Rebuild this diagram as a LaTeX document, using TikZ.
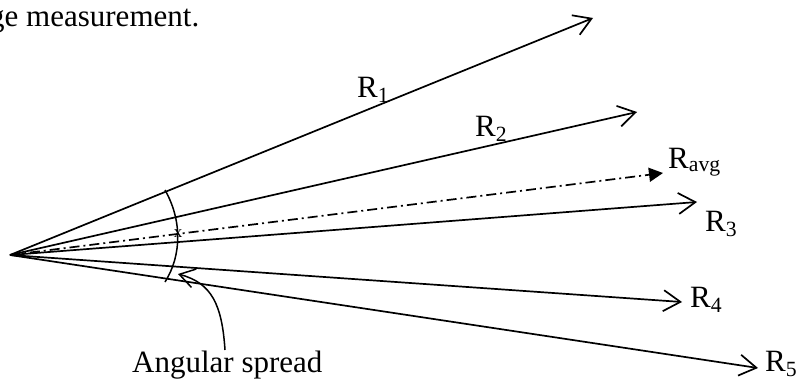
\documentclass[tikz,border=0pt]{standalone}
\usepackage{fontspec}
\setmainfont{Liberation Serif}
\usetikzlibrary{arrows.meta}
\begin{document}
\begin{tikzpicture}[x=1pt,y=-1pt,
  ray/.style={line width=1.7pt,-{Straight Barb[length=17pt,width=21pt,line width=1.7pt]}},
  avgray/.style={line width=1.7pt,dash pattern=on 10pt off 4pt on 2pt off 4pt,-{Triangle[length=14pt,width=14pt]}},
  lbl/.style={inner sep=0pt,anchor=base west,font=\fontsize{31}{36}\selectfont},
  pointer/.style={line width=1.5pt,-{Straight Barb[length=15pt,width=19pt,line width=1.5pt]}}]
\useasboundingbox (0,0) rectangle (797,383);
\coordinate (O) at (10,255);
\coordinate (t1) at (593,18);
\coordinate (t2) at (637,112);
\coordinate (ta) at (663,173);
\coordinate (t3) at (697,202);
\coordinate (t4) at (682,302);
\coordinate (t5) at (758,368);
\draw[ray] (O) -- (t1);
\draw[ray] (O) -- (t2);
\draw[avgray] (O) -- (ta);
\draw[ray] (O) -- (t3);
\draw[ray] (O) -- (t4);
\draw[ray] (O) -- (t5);
% angular spread arc
\coordinate (a1) at (165,190);
\coordinate (a2) at (165,282);
\draw[line width=1.5pt] (a1) .. controls (182,220) and (182,255) .. (a2);
\node[inner sep=0pt,font=\fontsize{17}{17}\selectfont] (xm) at (178,234) {x};
% labels
\node[lbl] (top) at (-11,26) {ge measurement.};
\node[lbl] (l1) at (357,97) {R\textsubscript{1}};
\node[lbl] (l2) at (475,136) {R\textsubscript{2}};
\node[lbl] (la) at (668,168) {R\textsubscript{avg}};
\node[lbl] (l3) at (705,231) {R\textsubscript{3}};
\node[lbl] (l4) at (690,307) {R\textsubscript{4}};
\node[lbl] (l5) at (765,371) {R\textsubscript{5}};
\node[lbl] (as) at (132,372) {Angular spread};
\coordinate (p0) at (225,350);
\coordinate (pt) at (178,274);
\draw[pointer] (p0) .. controls (222,305) and (212,283) .. (pt);
\end{tikzpicture}
\end{document}
